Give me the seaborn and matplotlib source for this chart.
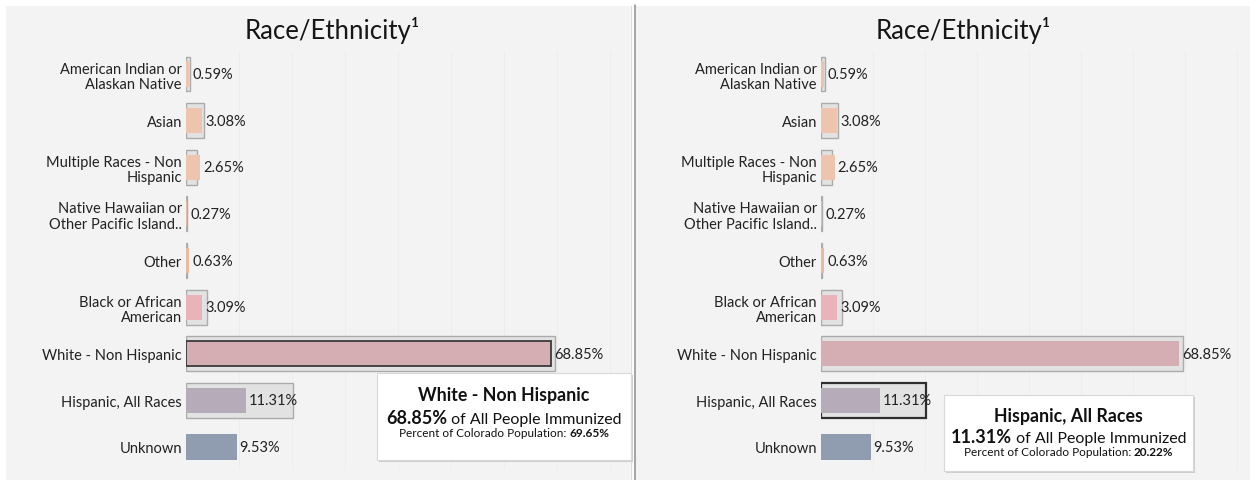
import numpy as np
import pandas as pd
import matplotlib
matplotlib.use("Agg")
import matplotlib.pyplot as plt
from matplotlib.patches import Rectangle
from matplotlib.lines import Line2D
import seaborn as sns

# ---------------- data ----------------
categories = [
    "American Indian or\nAlaskan Native",
    "Asian",
    "Multiple Races - Non\nHispanic",
    "Native Hawaiian or\nOther Pacific Island..",
    "Other",
    "Black or African\nAmerican",
    "White - Non Hispanic",
    "Hispanic, All Races",
    "Unknown",
]
immunized_pct = [0.59, 3.08, 2.65, 0.27, 0.63, 3.09, 68.85, 11.31, 9.53]
population_pct = [0.72, 3.35, 2.15, 0.15, 0.10, 3.95, 69.65, 20.22, np.nan]
bar_colors = ["#edc4ae", "#edc4ae", "#edc4ae", "#e9b9a0", "#e9b9a0",
              "#e9b4b9", "#d5aeb4", "#b6abb9", "#909db1"]
title_text = "Race/Ethnicity\u00b9"
highlight_idx = [6, 7]          # left panel: White, right panel: Hispanic

# ---------------- style ----------------
sns.set_theme(style="white")
FONT = ["Lato", "DejaVu Sans"]
plt.rcParams["font.family"] = FONT

W, H = 1250, 481
fig = plt.figure(figsize=(W / 100, H / 100), dpi=100, facecolor="white")


def fx(px):
    return px / W


def fy(py):
    return 1 - py / H


BG = "#f3f3f3"
TXT = "#222222"
# panel backgrounds
fig.add_artist(Rectangle((fx(6), 0), fx(630) - fx(6), fy(7), transform=fig.transFigure,
                         facecolor=BG, edgecolor="none", zorder=-10))
fig.add_artist(Rectangle((fx(636), 0), 1 - fx(636), fy(7), transform=fig.transFigure,
                         facecolor=BG, edgecolor="none", zorder=-10))
fig.add_artist(Line2D([fx(630.5), fx(630.5)], [0, fy(7)], transform=fig.transFigure,
                      color="#dcdcdc", lw=1, zorder=-5))
fig.add_artist(Line2D([fx(635), fx(635)], [0, fy(6)], transform=fig.transFigure,
                      color="#8a8a8a", lw=1.1, zorder=-5))

df = pd.DataFrame({"cat": categories, "imm": immunized_pct, "pop": population_pct})

TOP, BOT = 51.7, 471.3
panels = [
    dict(x0=186, x1=630, scale=5.30, title_cx=332, hl=highlight_idx[0], hl_mode="bar",
         box=(377, 374, 631, 461), ty=(396, 424, 437)),
    dict(x0=821, x1=1250, scale=5.20, title_cx=963, hl=highlight_idx[1], hl_mode="pop",
         box=(944, 396, 1193, 472), ty=(417, 443, 456)),
]


def mixed_line(parts, cx, base_y):
    texts = []
    for s, fs, wt in parts:
        t = fig.text(0, fy(base_y), s, fontsize=fs, fontweight=wt, color="#111111",
                     ha="left", va="baseline")
        texts.append(t)
    r = fig.canvas.get_renderer()
    widths = [t.get_window_extent(r).width for t in texts]
    total = sum(widths)
    x = cx - total / 2
    for t, w in zip(texts, widths):
        t.set_x(fx(x))
        x += w


for p in panels:
    ax = fig.add_axes([fx(p["x0"]), fy(BOT), fx(p["x1"]) - fx(p["x0"]), (BOT - TOP) / H])
    ax.set_facecolor("none")
    pop_df = df.dropna(subset=["pop"])
    sns.barplot(data=pop_df, x="pop", y="cat", order=categories, orient="h",
                color="#e2e2e2", saturation=1, edgecolor="#ababab", linewidth=1,
                width=0.75, ax=ax, errorbar=None)
    n_pop = len(ax.patches)
    sns.barplot(data=df, x="imm", y="cat", order=categories, hue="cat",
                hue_order=categories, palette=bar_colors, saturation=1, orient="h",
                linewidth=0, width=0.54, dodge=False, legend=False, ax=ax, errorbar=None)
    pats = ax.patches
    for k, patch in enumerate(pats):
        yc = patch.get_y() + patch.get_height() / 2
        if abs(yc - p["hl"]) < 0.01:
            if p["hl_mode"] == "bar" and k >= n_pop:
                patch.set_edgecolor("#3a3a3a")
                patch.set_linewidth(1.3)
            if p["hl_mode"] == "pop" and k < n_pop:
                patch.set_edgecolor("#2f2f2f")
                patch.set_linewidth(1.6)

    for i, v in enumerate(immunized_pct):
        ax.annotate(f"{v:.2f}%", xy=(v, i), xytext=(3, 0), textcoords="offset pixels",
                    ha="left", va="center", fontsize=10.5, color=TXT)

    ax.set_xlim(0, (p["x1"] - p["x0"]) / p["scale"])
    ax.set_ylim(len(categories) - 0.5, -0.5)
    ax.set_xticks(np.arange(10, 90, 10))
    ax.xaxis.grid(True, color="#ededed", lw=0.7)
    ax.yaxis.grid(False)
    ax.set_axisbelow(True)
    ax.tick_params(axis="x", length=0, labelbottom=False)
    ax.tick_params(axis="y", length=0, pad=3, labelsize=10.5, labelcolor=TXT)
    for lab in ax.get_yticklabels():
        lab.set_horizontalalignment("right")
        lab.set_linespacing(1.15)
    ax.set_xlabel("")
    ax.set_ylabel("")
    sns.despine(ax=ax, left=True, bottom=True)

    fig.text(fx(p["title_cx"]), fy(38.5), title_text, ha="center", va="baseline",
             fontsize=18.5, color="#161616")

    # tooltip
    l, t, r_, b = p["box"]
    fig.add_artist(Rectangle((fx(l + 2), fy(b + 2)), fx(r_) - fx(l), (b - t) / H,
                             transform=fig.transFigure, facecolor="#cfcfcf",
                             edgecolor="none", zorder=5))
    fig.add_artist(Rectangle((fx(l), fy(b)), fx(r_) - fx(l), (b - t) / H,
                             transform=fig.transFigure, facecolor="white",
                             edgecolor="#d8d8d8", lw=0.8, zorder=6))
    cx = (l + r_) / 2
    hi = p["hl"]
    name = categories[hi].replace("\n", " ")
    t1, t2, t3 = p["ty"]
    fig.text(fx(cx), fy(t1), name, ha="center", va="center", fontsize=12.8,
             fontweight="bold", color="#111111")
    mixed_line([(f"{immunized_pct[hi]:.2f}%", 13, "bold"),
                (" of All People Immunized", 11.5, "normal")], cx, t2)
    mixed_line([("Percent of Colorado Population: ", 8.5, "normal"),
                (f"{population_pct[hi]:.2f}%", 8.5, "bold")], cx, t3)

for t in fig.texts:
    t.set_zorder(8)

fig.savefig("out.png", dpi=100, facecolor="white")
